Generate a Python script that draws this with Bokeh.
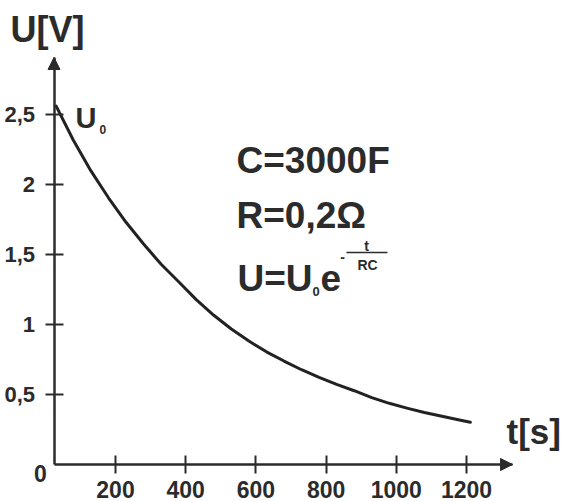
from bokeh.plotting import figure
from bokeh.models import Range1d, FixedTicker, Label, Arrow, NormalHead
from bokeh.embed import file_html
from bokeh.resources import INLINE

# ---------------- data ----------------
t_s = [31, 80, 130, 180, 230, 280, 330, 380, 430, 480, 530, 580, 630, 680,
       730, 780, 830, 880, 930, 980, 1030, 1080, 1130, 1180, 1211]
U_v = [2.56, 2.316, 2.097, 1.905, 1.73, 1.575, 1.43, 1.305, 1.178, 1.066,
       0.968, 0.882, 0.805, 0.739, 0.677, 0.622, 0.572, 0.527, 0.478, 0.437,
       0.403, 0.371, 0.344, 0.318, 0.302]
x_ticks = [200, 400, 600, 800, 1000, 1200]
x_tick_labels = ["200", "400", "600", "800", "1000", "1200"]
y_ticks = [0.5, 1.0, 1.5, 2.0, 2.5]
y_tick_labels = ["0,5", "1", "1,5", "2", "2,5"]
origin_label = "0"
x_title = "t[s]"
y_title = "U[V]"
info_C = "C=3000F"
info_R = "R=0,2\u03a9"

# ---------------- layout helpers ----------------
W, H = 563, 501
X0_REF, XS = 44.8, 0.351     # pixel x of t=0, px per second
Y0_REF, YS = 464.0, 140.0    # pixel y of U=0, px per volt


def t_at(xr):
    return (xr - X0_REF) / XS


def u_at(yr):
    return (Y0_REF - yr) / YS


FONT = "Liberation Sans"
INK = "#2b2b2b"

p = figure(width=W, height=H, output_backend="svg", toolbar_location=None,
           x_range=Range1d(t_at(0), t_at(W)),
           y_range=Range1d(u_at(H), u_at(0)),
           min_border=0, title=None)
p.outline_line_color = None
p.grid.visible = False
p.background_fill_color = "white"
p.border_fill_color = "white"

x_axis_pos = t_at(53.5)
x_end = t_at(512)
y_end = u_at(57)

for ax in (p.xaxis[0], p.yaxis[0]):
    ax.axis_line_color = INK
    ax.axis_line_width = 2.5
    ax.major_tick_line_color = INK
    ax.major_tick_line_width = 2
    ax.major_tick_in = 9
    ax.major_tick_out = 9
    ax.minor_tick_line_color = None
    ax.major_label_text_font = FONT
    ax.major_label_text_font_style = "bold"
    ax.major_label_text_color = INK

xa = p.xaxis[0]
xa.fixed_location = 0
xa.bounds = (x_axis_pos, x_end)
xa.ticker = FixedTicker(ticks=x_ticks)
xa.major_label_overrides = dict(zip(x_ticks, x_tick_labels))
xa.major_label_text_font_size = "23px"
xa.major_label_standoff = 7

ya = p.yaxis[0]
ya.fixed_location = x_axis_pos
ya.bounds = (0, y_end)
ya.ticker = FixedTicker(ticks=y_ticks)
ya.major_label_overrides = dict(zip(y_ticks, y_tick_labels))
ya.major_label_text_font_size = "22px"
ya.major_label_standoff = 10

# arrow heads on the axes
p.add_layout(Arrow(end=NormalHead(size=12, fill_color=INK, line_color=INK),
                   x_start=t_at(500), y_start=0, x_end=x_end, y_end=0,
                   line_color=INK, line_width=2.5))
p.add_layout(Arrow(end=NormalHead(size=12, fill_color=INK, line_color=INK),
                   x_start=x_axis_pos, y_start=u_at(69), x_end=x_axis_pos, y_end=y_end,
                   line_color=INK, line_width=2.5))

# curve
p.line(t_s, U_v, line_width=3, color="#222222", line_join="round", line_cap="round")


def lab(text, xr, yr, size, align="left"):
    # yr is the pixel y of the text's vertical middle
    p.add_layout(Label(x=t_at(xr), y=u_at(yr), text=text, text_font=FONT,
                       text_font_style="bold", text_font_size=f"{size}px",
                       text_color=INK, text_align=align, text_baseline="middle"))


lab(y_title, 10, 29, 36)
lab(x_title, 506, 431, 35)
lab(origin_label, 40, 473, 23, align="center")
lab("U", 75, 117.5, 29)
lab("0", 99, 129, 12)
lab(info_C, 236, 160, 37)
lab(info_R, 236, 215, 37)
lab("U=U", 237, 277.5, 37)
lab("0", 312, 291, 13)
lab("e", 320, 277.5, 37)
lab("-", 342, 256, 14, align="center")
lab("t", 366, 245, 14, align="center")
lab("RC", 367, 264, 14, align="center")
p.add_layout(Arrow(start=None, end=None, x_start=t_at(346), y_start=u_at(252),
                   x_end=t_at(387), y_end=u_at(252), line_color=INK, line_width=1.5))

open("out.html", "w").write(file_html(p, INLINE))
